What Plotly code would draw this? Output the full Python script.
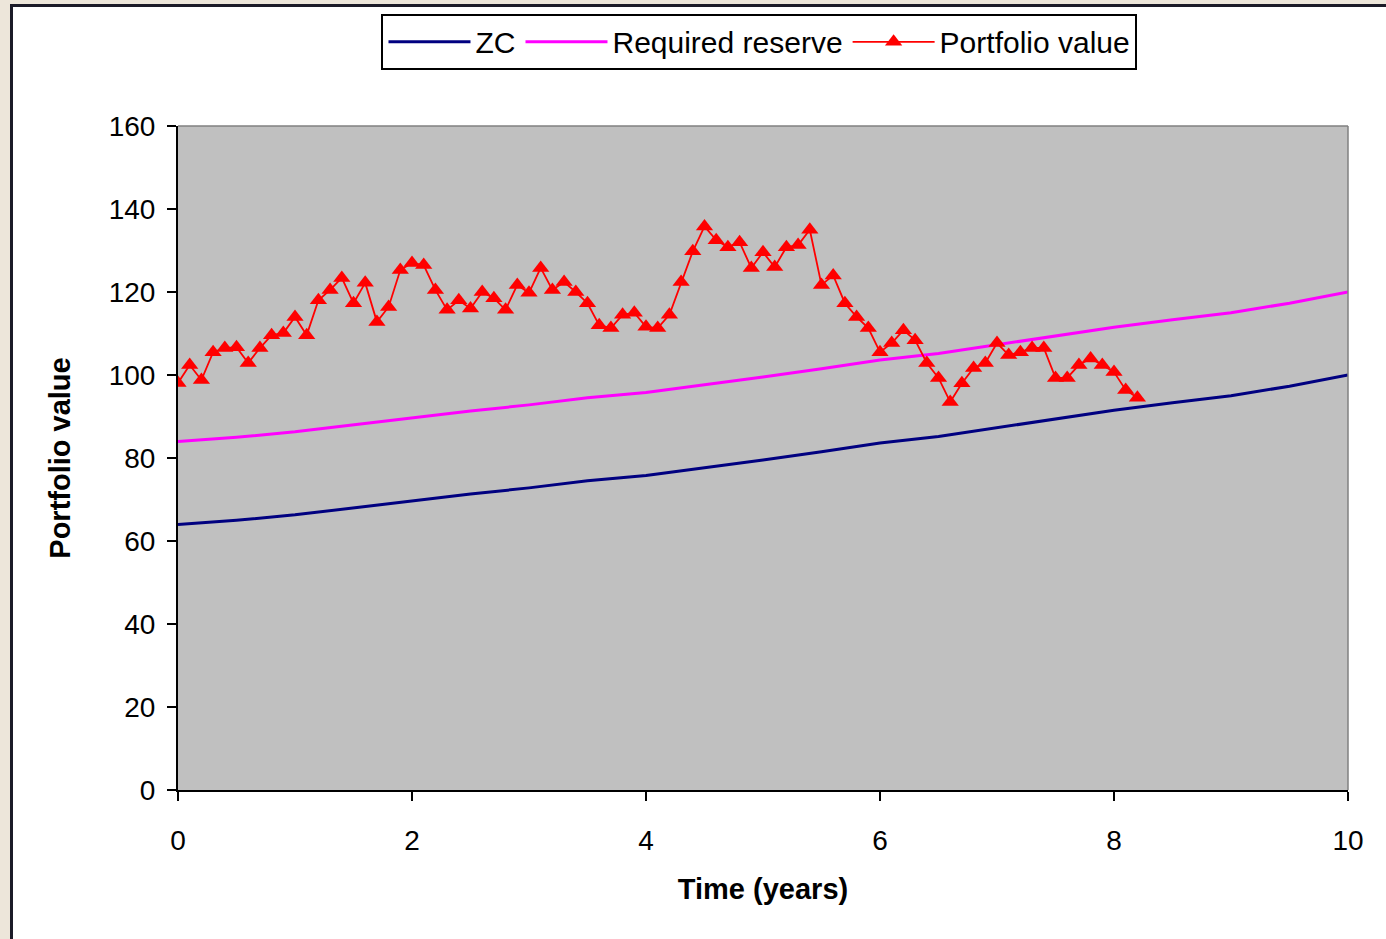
import plotly.graph_objects as go

# ---- data ----
line_times = [0, 0.5, 1, 1.5, 2, 2.5, 3, 3.5, 4, 4.5, 5, 5.5, 6, 6.5, 7, 7.5, 8, 8.5, 9, 9.5, 10]
zc_values = [64, 65, 66.3, 68, 69.7, 71.3, 72.8, 74.5, 75.8, 77.6, 79.5, 81.5, 83.6, 85.2,
             87.3, 89.3, 91.5, 93.3, 95.0, 97.3, 100]
reserve_values = [84, 85, 86.3, 88, 89.7, 91.3, 92.8, 94.5, 95.8, 97.6, 99.5, 101.5, 103.6,
                  105.2, 107.3, 109.3, 111.5, 113.3, 115.0, 117.3, 120]

portfolio_times = [round(i * 0.1, 1) for i in range(83)]
portfolio_values = [
    98.1, 102.4, 98.8, 105.5, 106.5, 106.7, 102.9, 106.5, 109.6, 110.1,
    114.0, 109.6, 118.0, 120.5, 123.4, 117.3, 122.2, 112.8, 116.4, 125.3,
    127.0, 126.5, 120.5, 115.7, 118.0, 116.0, 120.0, 118.5, 115.7, 121.7,
    119.8, 125.8, 120.5, 122.4, 120.0, 117.3, 112.0, 111.3, 114.5, 115.0,
    111.6, 111.3, 114.5, 122.4, 129.8, 135.8, 132.5, 130.8, 132.0, 125.8,
    129.6, 126.0, 130.8, 131.3, 135.0, 121.7, 124.0, 117.3, 114.0, 111.3,
    105.5, 107.7, 110.8, 108.4, 102.9, 99.3, 93.5, 98.0, 101.7, 102.9,
    107.7, 104.8, 105.5, 106.5, 106.5, 99.3, 99.3, 102.4, 104.0, 102.4,
    100.7, 96.4, 94.5,
]

x_ticks = [0, 2, 4, 6, 8, 10]
y_ticks = [0, 20, 40, 60, 80, 100, 120, 140, 160]

FONT = "Liberation Sans, Arial, sans-serif"

fig = go.Figure()
fig.add_trace(go.Scatter(x=line_times, y=zc_values, mode="lines", name="ZC",
                         line=dict(color="#000080", width=3)))
fig.add_trace(go.Scatter(x=line_times, y=reserve_values, mode="lines", name="Required reserve",
                         line=dict(color="#FF00FF", width=3)))
fig.add_trace(go.Scatter(x=portfolio_times, y=portfolio_values, mode="lines+markers",
                         name="Portfolio value",
                         line=dict(color="#FF0000", width=1.8),
                         marker=dict(symbol="triangle-up", size=15, color="#FF0000",
                                     line=dict(width=0))))

# page frame: beige surround with dark border on left/top
fig.add_shape(type="rect", xref="paper", yref="paper",
              x0=(11.5 - 178) / 1170, x1=1.2, y0=-0.3, y1=(790 - 5.5) / 664,
              fillcolor="white", line=dict(color="#1b1b28", width=3), layer="below")
# grey plot area
fig.add_shape(type="rect", xref="paper", yref="paper", x0=0, x1=1, y0=0, y1=1,
              fillcolor="#C0C0C0", line=dict(width=0), layer="below")

# plot area frame (top/right in grey)
fig.add_shape(type="line", xref="paper", yref="paper", x0=0, x1=1, y0=1, y1=1,
              line=dict(color="#808080", width=1.5), layer="above")
fig.add_shape(type="line", xref="paper", yref="paper", x0=1, x1=1, y0=0, y1=1,
              line=dict(color="#808080", width=1.5), layer="above")

fig.update_layout(
    width=1386, height=939,
    margin=dict(l=178, r=38, t=126, b=149),
    paper_bgcolor="#ede6da",
    plot_bgcolor="rgba(0,0,0,0)",
    font=dict(family=FONT, size=28, color="black"),
    showlegend=True,
    legend=dict(orientation="h", x=0.497, y=1.169, xanchor="center", yanchor="top",
                bgcolor="white", bordercolor="black", borderwidth=2,
                font=dict(family=FONT, size=30, color="black"),
                itemwidth=82, tracegroupgap=0),
    xaxis=dict(range=[0, 10], tickvals=x_ticks, ticks="outside", ticklen=9, tickwidth=2,
               tickcolor="black", showline=True, linecolor="black", linewidth=2,
               showgrid=False, zeroline=False, ticklabelstandoff=15,
               tickfont=dict(size=28),
               title=dict(text="<b>Time (years)</b>", font=dict(size=29), standoff=24)),
    yaxis=dict(range=[0, 160], tickvals=y_ticks, ticks="outside", ticklen=9, tickwidth=2,
               tickcolor="black", showline=True, linecolor="black", linewidth=2,
               showgrid=False, zeroline=False, ticklabelstandoff=6,
               tickfont=dict(size=28),
               title=dict(text="<b>Portfolio value</b>", font=dict(size=29), standoff=30)),
)

fig.write_html("out.html", config={"displayModeBar": False},
               post_script="document.body.style.margin='0';")
